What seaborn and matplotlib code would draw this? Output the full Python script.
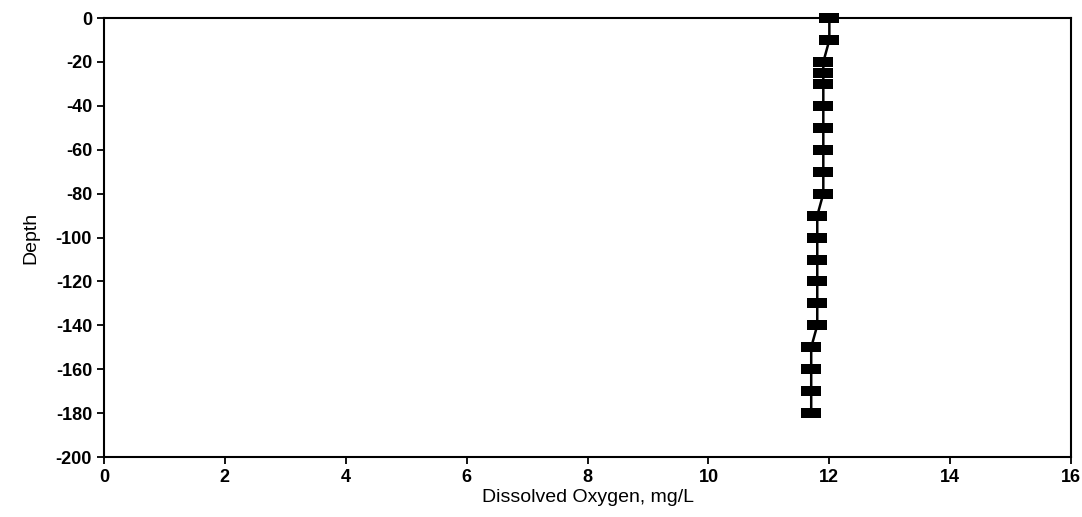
import pandas as pd
import matplotlib
matplotlib.use("Agg")
import matplotlib.pyplot as plt
import seaborn as sns

# values
depth = [0, -10, -20, -25, -30, -40, -50, -60, -70, -80, -90, -100,
         -110, -120, -130, -140, -150, -160, -170, -180]
dissolved_oxygen = [12.0, 12.0, 11.9, 11.9, 11.9, 11.9, 11.9, 11.9, 11.9, 11.9,
                    11.8, 11.8, 11.8, 11.8, 11.8, 11.8, 11.7, 11.7, 11.7, 11.7]
x_ticks = [0, 2, 4, 6, 8, 10, 12, 14, 16]
y_ticks = [0, -20, -40, -60, -80, -100, -120, -140, -160, -180, -200]

df = pd.DataFrame({"depth": depth, "do": dissolved_oxygen})

sns.set_style("ticks")
plt.rcParams['font.family'] = ['Liberation Sans', 'DejaVu Sans']
plt.rcParams['axes.unicode_minus'] = False

fig = plt.figure(figsize=(10.82, 5.17), dpi=100)
ax = fig.add_axes([0.096, 0.116, 0.894, 0.849])

# wide flat box marker like the original plot symbols
box = [(-1, -0.45), (1, -0.45), (1, 0.45), (-1, 0.45), (-1, -0.45)]
sns.lineplot(data=df, x="do", y="depth", sort=False, estimator=None,
             color="black", linewidth=1.8, marker=box, markersize=15,
             markeredgewidth=0, markerfacecolor="black", ax=ax, clip_on=False)

ax.set_xlim(0, 16)
ax.set_ylim(-200, 0)
ax.set_xticks(x_ticks)
ax.set_yticks(y_ticks)
ax.tick_params(direction="out", length=5, width=1.3, labelsize=13, colors="black")
for lab in ax.get_xticklabels() + ax.get_yticklabels():
    lab.set_fontweight("bold")
for s in ax.spines.values():
    s.set_visible(True)
    s.set_linewidth(1.5)
    s.set_color("black")
ax.set_xlabel("Dissolved Oxygen, mg/L", fontsize=14, labelpad=2, color="black")
ax.set_ylabel("Depth", fontsize=14, labelpad=12, color="black")

fig.savefig("out.png", dpi=100)
